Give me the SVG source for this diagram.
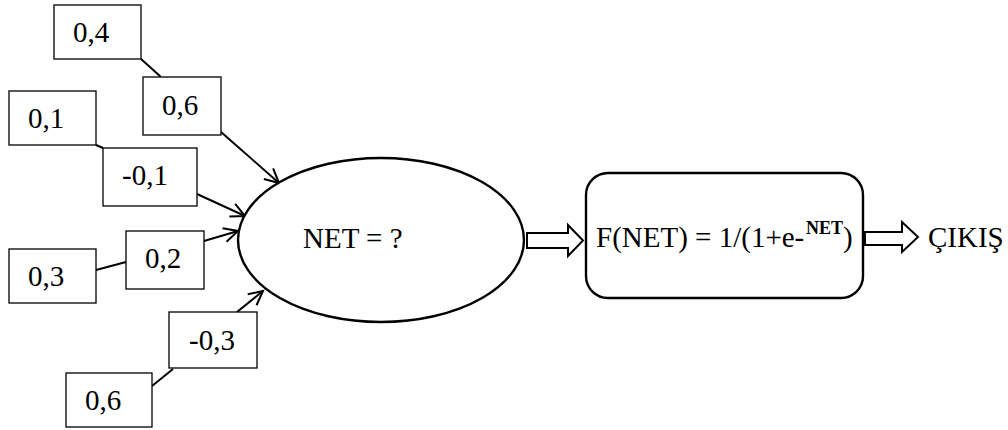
<svg xmlns="http://www.w3.org/2000/svg" width="1008" height="430" viewBox="0 0 1008 430">
  <style>
    .box { fill: #fff; stroke: #000; stroke-width: 1.3; }
    .lbl { font-family: 'Liberation Serif', 'Times New Roman', serif; font-size: 29px; fill: #000; }
    .sup { font-size: 18px; font-weight: bold; }
    .wire { fill: none; stroke: #000; stroke-width: 2; }
    .arrow { fill: none; stroke: #000; stroke-width: 2; marker-end: url(#vhead); }
    .block { fill: #fff; stroke: #000; stroke-width: 2.4; }
    .fat { fill: #fff; stroke: #000; stroke-width: 2; stroke-linejoin: miter; }
  </style>
  <defs>
    <!-- open V arrowhead for the weighted inputs -->
    <marker id="vhead" markerUnits="userSpaceOnUse" markerWidth="20" markerHeight="20" refX="15" refY="8" orient="auto">
      <path d="M1,1 L15,8 L1,15" fill="none" stroke="#000" stroke-width="2"/>
    </marker>
  </defs>

  <!-- connectors: input to weight, weight to summing node, and the block arrows -->
  <g id="connectors">
    <line class="wire" x1="141" y1="59" x2="161" y2="77"/>
    <line class="wire" x1="96" y1="145" x2="103" y2="148"/>
    <line class="wire" x1="96" y1="270" x2="126" y2="262"/>
    <line class="wire" x1="152" y1="386" x2="173" y2="369"/>
    <line class="arrow" x1="221" y1="132" x2="279" y2="183"/>
    <line class="arrow" x1="197" y1="194" x2="245" y2="216"/>
    <line class="arrow" x1="204" y1="241" x2="238" y2="231"/>
    <line class="arrow" x1="237" y1="312" x2="263" y2="291"/>
    <polygon class="fat" points="527,233 568,233 568,225 583,240.5 568,256 568,248 527,248"/>
    <polygon class="fat" points="865,232 902,232 902,222 918,237 902,252 902,245 865,245"/>
  </g>

  <!-- inputs -->
  <g id="in1"><rect class="box" x="54" y="5" width="87" height="54"/><text class="lbl" x="73" y="42">0,4</text></g>
  <g id="in2"><rect class="box" x="9" y="91" width="87" height="54"/><text class="lbl" x="28" y="128">0,1</text></g>
  <g id="in3"><rect class="box" x="9" y="249" width="87" height="54"/><text class="lbl" x="28" y="286">0,3</text></g>
  <g id="in4"><rect class="box" x="66" y="373" width="86" height="54"/><text class="lbl" x="85" y="410">0,6</text></g>

  <!-- weights -->
  <g id="w1"><rect class="box" x="143" y="77" width="78" height="58"/><text class="lbl" x="162" y="115">0,6</text></g>
  <g id="w2"><rect class="box" x="103" y="148" width="94" height="58"/><text class="lbl" x="122" y="185">-0,1</text></g>
  <g id="w3"><rect class="box" x="126" y="231" width="78" height="58"/><text class="lbl" x="145" y="268">0,2</text></g>
  <g id="w4"><rect class="box" x="169" y="312" width="88" height="56"/><text class="lbl" x="189" y="350">-0,3</text></g>

  <!-- summing node -->
  <g id="net">
    <ellipse class="block" cx="381" cy="240" rx="143" ry="82"/>
    <text class="lbl" x="303" y="248">NET = ?</text>
  </g>

  <!-- activation function -->
  <g id="activation">
    <rect class="block" x="586" y="173" width="277" height="125" rx="22" ry="22"/>
    <text class="lbl" x="596" y="247">F(NET) = 1/(1+e-<tspan class="sup" x="806" y="234">NET</tspan><tspan x="843" y="247">)</tspan></text>
  </g>

  <!-- output -->
  <g id="output">
    <text class="lbl" x="928" y="247">ÇIKIŞ</text>
  </g>
</svg>
